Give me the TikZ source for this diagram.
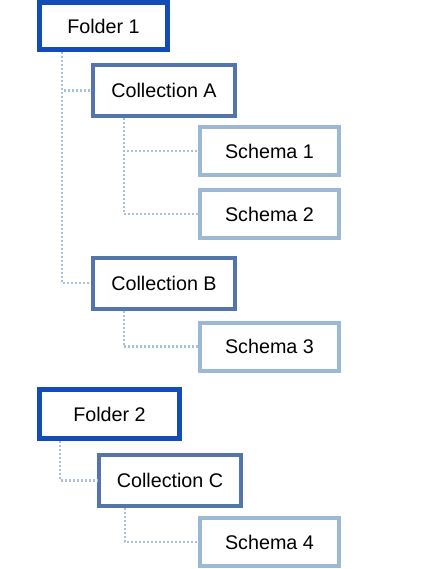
\documentclass[tikz,border=0pt]{standalone}
\usepackage{fontspec}
\setmainfont{Liberation Sans}
\usetikzlibrary{calc}
\definecolor{folderblue}{RGB}{17,76,183}
\definecolor{collblue}{RGB}{84,117,170}
\definecolor{schemablue}{RGB}{155,184,214}
\definecolor{treeline}{RGB}{168,192,220}

\begin{document}
\begin{tikzpicture}[x=0.75pt,y=-0.75pt,
  box/.style={fill=white, inner sep=0pt, font=\fontsize{14.8}{17}\selectfont},
  folder/.style={box, draw=folderblue, line width=3.75pt, minimum height=35.25pt},
  collection/.style={box, draw=collblue, line width=3pt, minimum width=106.5pt, minimum height=38.25pt},
  schema/.style={box, draw=schemablue, line width=3pt, minimum width=104.25pt, minimum height=36pt},
  tree/.style={treeline, line width=2pt, dash pattern=on 1.5pt off 1.5pt}]
\useasboundingbox (0,0) rectangle (437,569);
% first folder
\node[folder, minimum width=96pt] (f1) at (103.5,26) {Folder 1};
\node[collection] (ca) at (164,90.5) {Collection A};
\node[schema] (s1) at (269.5,151) {Schema 1};
\node[schema] (s2) at (269.5,214) {Schema 2};
\node[collection] (cb) at (164,283) {Collection B};
\node[schema] (s3) at (269.5,346.5) {Schema 3};
% second folder
\node[folder, minimum width=105pt, minimum height=36.75pt] (f2) at (109.5,414) {Folder 2};
\node[collection] (cc) at (170,480.5) {Collection C};
\node[schema] (s4) at (269.5,542) {Schema 4};
% tree lines
\draw[tree] ($(f1.south west)+(25,0)$) |- (ca.west);
\draw[tree] ($(f1.south west)+(25,0)$) |- (cb.west);
\draw[tree] ($(ca.south west)+(33,0)$) |- (s1.west);
\draw[tree] ($(ca.south west)+(33,0)$) |- (s2.west);
\draw[tree] ($(cb.south west)+(33,0)$) |- (s3.west);
\draw[tree] ($(f2.south west)+(23,0)$) |- (cc.west);
\draw[tree] ($(cc.south west)+(28,0)$) |- (s4.west);
\end{tikzpicture}
\end{document}
